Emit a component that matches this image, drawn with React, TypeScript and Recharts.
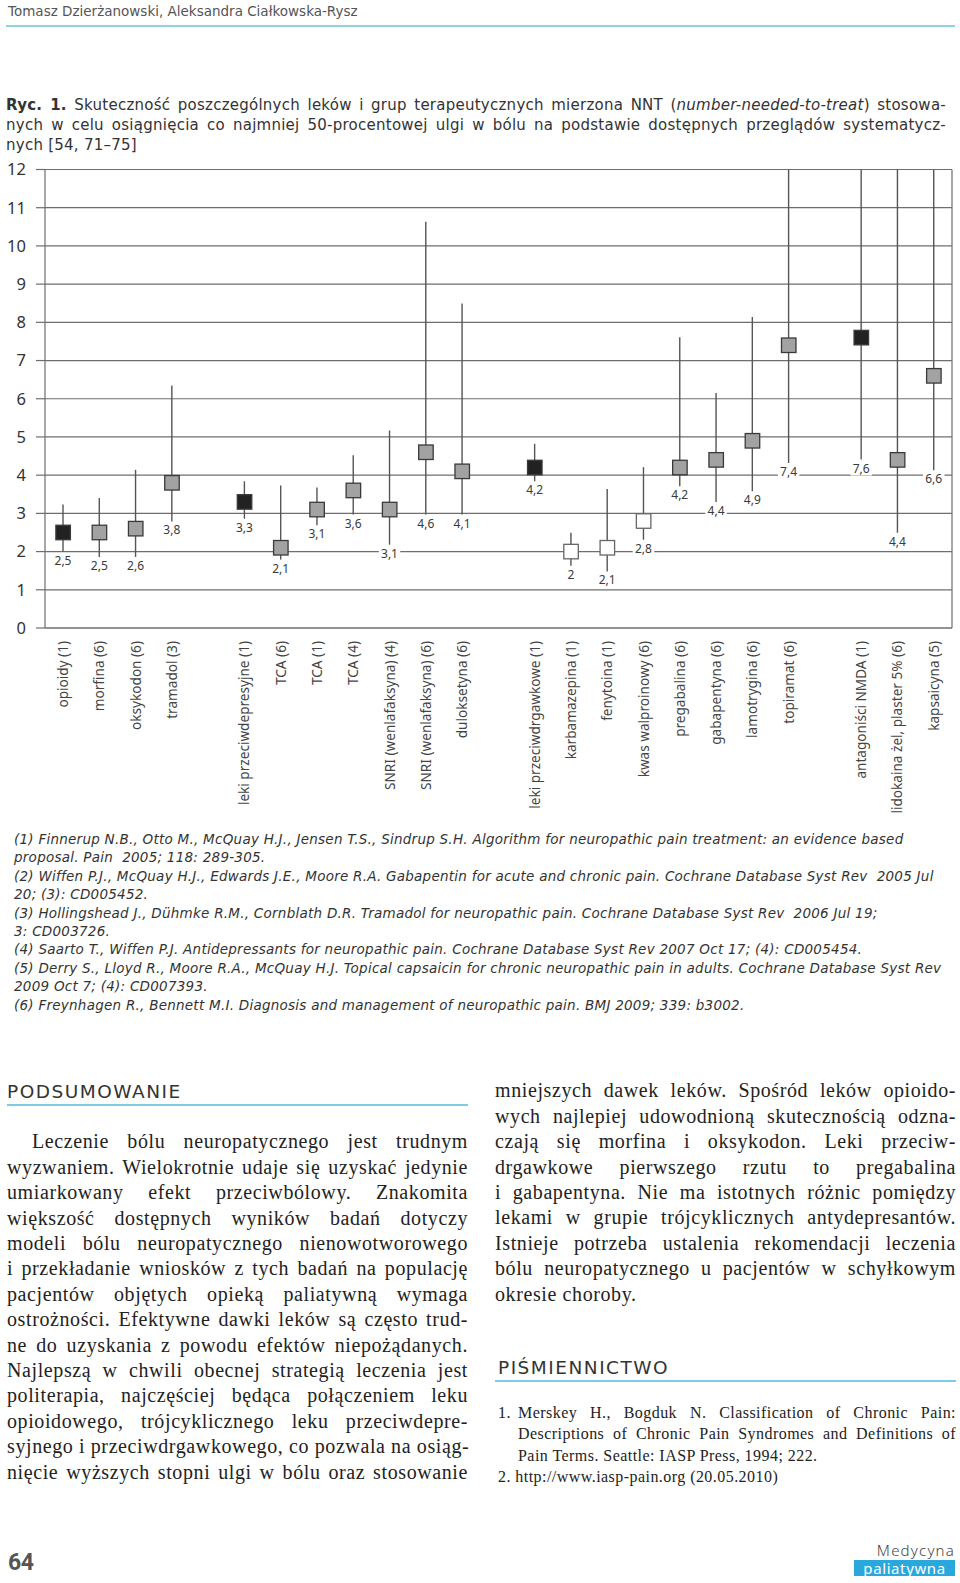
import React from "react";
import {
  ComposedChart,
  Bar,
  Line,
  XAxis,
  YAxis,
  CartesianGrid,
  LabelList,
} from "recharts";

// 25 slots on the x axis, empty strings are the gaps between drug groups
const categories = [
  "opioidy (1)",
  "morfina (6)",
  "oksykodon (6)",
  "tramadol (3)",
  "",
  "leki przeciwdepresyjne (1)",
  "TCA (6)",
  "TCA (1)",
  "TCA (4)",
  "SNRI (wenlafaksyna) (4)",
  "SNRI (wenlafaksyna) (6)",
  "duloksetyna (6)",
  "",
  "leki przeciwdrgawkowe (1)",
  "karbamazepina (1)",
  "fenytoina (1)",
  "kwas walproinowy (6)",
  "pregabalina (6)",
  "gabapentyna (6)",
  "lamotrygina (6)",
  "topiramat (6)",
  "",
  "antagoniści NMDA (1)",
  "lidokaina żel, plaster 5% (6)",
  "kapsaicyna (5)",
];

// NNT point estimate
const nntValues = [
  2.5, 2.5, 2.6, 3.8, null,
  3.3, 2.1, 3.1, 3.6, 3.1, 4.6, 4.1, null,
  4.2, 2, 2.1, 2.8, 4.2, 4.4, 4.9, 7.4, null,
  7.6, 4.4, 6.6,
];

// confidence interval ends (lines running off the top are cut at 12)
const ciLow = [
  2.0, 1.86, 1.86, 2.79, null,
  2.86, 1.79, 2.69, 2.97, 2.18, 2.97, 2.97, null,
  3.84, 1.63, 1.48, 2.31, 3.71, 3.3, 3.58, 4.32, null,
  4.41, 2.49, 4.13,
];
const ciHigh = [
  3.23, 3.4, 4.14, 6.35, null,
  3.84, 3.73, 3.68, 4.52, 5.17, 10.63, 8.49, null,
  4.82, 2.49, 3.64, 4.21, 7.61, 6.15, 8.14, 12, null,
  12, 12, 12,
];

// marker style: group summary (black), single drug (gray), older anticonvulsants (white)
const markerKind = [
  "group", "drug", "drug", "drug", null,
  "group", "drug", "drug", "drug", "drug", "drug", "drug", null,
  "group", "old", "old", "old", "drug", "drug", "drug", "drug", null,
  "group", "drug", "drug",
];

const yTicks = [0, 1, 2, 3, 4, 5, 6, 7, 8, 9, 10, 11, 12];

const data = categories.map((name, i) => ({
  slot: i,
  name,
  nnt: nntValues[i],
  range: ciLow[i] == null ? null : [ciLow[i], ciHigh[i]],
  label: nntValues[i] == null ? null : String(nntValues[i]).replace(".", ","),
  kind: markerKind[i],
}));

const SANS = "'Noto Sans', 'DejaVu Sans', sans-serif";
const WIDE = "'DejaVu Sans', sans-serif";
const SERIF = "'Liberation Serif', 'DejaVu Serif', serif";
const GRID = "#6e6e6e";

const markerFill: Record<string, string> = {
  group: "#222222",
  drug: "#a2a2a2",
  old: "#ffffff",
};

function XTick(props: any) {
  const { x, y, payload } = props;
  const name = categories[payload.value];
  if (!name) return null;
  return (
    <text
      x={x}
      y={y}
      transform={`rotate(-90 ${x} ${y})`}
      textAnchor="end"
      dy="0.36em"
      fontSize={13.6}
      fontFamily={SANS}
      fill="#444"
    >
      {name}
    </text>
  );
}

function RangeLine(props: any) {
  const { x, y, width, height, payload } = props;
  if (!payload || payload.range == null || !isFinite(height)) return null;
  const cx = x + width / 2;
  return <line x1={cx} x2={cx} y1={y} y2={y + height} stroke="#555" strokeWidth={1.4} />;
}

function RangeLabel(props: any) {
  const vb = props.viewBox || props;
  const { value } = props;
  if (value == null || vb.x == null) return null;
  const cx = vb.x + vb.width / 2;
  const top = vb.y + vb.height + 3;
  const w = String(value).length * 6.5 + 2;
  return (
    <g>
      <rect x={cx - w / 2} y={top} width={w} height={13} fill="#fff" />
      <text x={cx} y={top + 10} textAnchor="middle" fontSize={12} fontFamily={SANS} fill="#3a3a3a">
        {value}
      </text>
    </g>
  );
}

function Marker(props: any) {
  const { cx, cy, payload } = props;
  if (payload == null || payload.nnt == null || cy == null || isNaN(cy)) return null;
  const s = 14.5;
  const kind = payload.kind;
  return (
    <rect
      x={cx - s / 2}
      y={cy - s / 2}
      width={s}
      height={s}
      fill={markerFill[kind]}
      stroke={kind === "old" ? "#666" : "#3a3a3a"}
      strokeWidth={1.3}
    />
  );
}

const line = (justify: boolean, extra: React.CSSProperties = {}): React.CSSProperties => ({
  whiteSpace: "nowrap",
  textAlign: justify ? "justify" : "left",
  textAlignLast: justify ? "justify" : "left",
  ...extra,
});

const captionLines = [
  "Skuteczność poszczególnych leków i grup terapeutycznych mierzona NNT (",
  "nych w celu osiągnięcia co najmniej 50-procentowej ulgi w bólu na podstawie dostępnych przeglądów systematycz-",
  "nych [54, 71–75]",
];

const footnotes = [
  "(1) Finnerup N.B., Otto M., McQuay H.J., Jensen T.S., Sindrup S.H. Algorithm for neuropathic pain treatment: an evidence based",
  "proposal. Pain  2005; 118: 289-305.",
  "(2) Wiffen P.J., McQuay H.J., Edwards J.E., Moore R.A. Gabapentin for acute and chronic pain. Cochrane Database Syst Rev  2005 Jul",
  "20; (3): CD005452.",
  "(3) Hollingshead J., Dühmke R.M., Cornblath D.R. Tramadol for neuropathic pain. Cochrane Database Syst Rev  2006 Jul 19;",
  "3: CD003726.",
  "(4) Saarto T., Wiffen P.J. Antidepressants for neuropathic pain. Cochrane Database Syst Rev 2007 Oct 17; (4): CD005454.",
  "(5) Derry S., Lloyd R., Moore R.A., McQuay H.J. Topical capsaicin for chronic neuropathic pain in adults. Cochrane Database Syst Rev",
  "2009 Oct 7; (4): CD007393.",
  "(6) Freynhagen R., Bennett M.I. Diagnosis and management of neuropathic pain. BMJ 2009; 339: b3002.",
];

const leftColumn = [
  "Leczenie bólu neuropatycznego jest trudnym",
  "wyzwaniem. Wielokrotnie udaje się uzyskać jedynie",
  "umiarkowany efekt przeciwbólowy. Znakomita",
  "większość dostępnych wyników badań dotyczy",
  "modeli bólu neuropatycznego nienowotworowego",
  "i przekładanie wniosków z tych badań na populację",
  "pacjentów objętych opieką paliatywną wymaga",
  "ostrożności. Efektywne dawki leków są często trud-",
  "ne do uzyskania z powodu efektów niepożądanych.",
  "Najlepszą w chwili obecnej strategią leczenia jest",
  "politerapia, najczęściej będąca połączeniem leku",
  "opioidowego, trójcyklicznego leku przeciwdepre-",
  "syjnego i przeciwdrgawkowego, co pozwala na osiąg-",
  "nięcie wyższych stopni ulgi w bólu oraz stosowanie",
];

const rightColumn = [
  "mniejszych dawek leków. Spośród leków opioido-",
  "wych najlepiej udowodnioną skutecznością odzna-",
  "czają się morfina i oksykodon. Leki przeciw-",
  "drgawkowe pierwszego rzutu to pregabalina",
  "i gabapentyna. Nie ma istotnych różnic pomiędzy",
  "lekami w grupie trójcyklicznych antydepresantów.",
  "Istnieje potrzeba ustalenia rekomendacji leczenia",
  "bólu neuropatycznego u pacjentów w schyłkowym",
  "okresie choroby.",
];

const bodyText: React.CSSProperties = {
  fontFamily: SERIF,
  fontSize: 20,
  letterSpacing: 0.6,
  lineHeight: "25.4px",
  color: "#222",
};

const heading: React.CSSProperties = {
  fontFamily: WIDE,
  fontSize: 18.5,
  lineHeight: "22px",
  color: "#333",
  letterSpacing: 1.5,
};

export default function App() {
  return (
    <div
      style={{
        position: "absolute",
        left: 0,
        top: 0,
        width: 960,
        height: 1583,
        background: "#fff",
        color: "#222",
        overflow: "hidden",
      }}
    >
      {/* running head */}
      <div style={{ position: "absolute", left: 8, top: 2, fontFamily: WIDE, fontSize: 13.5, lineHeight: "18px", color: "#555" }}>
        Tomasz Dzierżanowski, Aleksandra Ciałkowska-Rysz
      </div>
      <div style={{ position: "absolute", left: 6, top: 25, width: 949, height: 2, background: "#8fd3dc" }} />

      {/* figure caption */}
      <div style={{ position: "absolute", left: 6, top: 95, width: 940, fontFamily: WIDE, fontSize: 15, letterSpacing: 0.25, lineHeight: "20px", color: "#333" }}>
        <div style={line(true)}>
          <b>Ryc. 1.</b> {captionLines[0]}
          <i>number-needed-to-treat</i>) stosowa-
        </div>
        <div style={line(true)}>{captionLines[1]}</div>
        <div style={line(false)}>{captionLines[2]}</div>
      </div>

      <div style={{ position: "absolute", left: 0, top: 150 }}>
        <ComposedChart
          width={960}
          height={670}
          data={data}
          margin={{ top: 19.5, right: 8, bottom: 0, left: 0 }}
        >
          <CartesianGrid
            stroke={GRID}
            strokeWidth={1.2}
            vertical={true}
            verticalCoordinatesGenerator={({ offset }: any) => [offset.left + offset.width]}
          />
          <XAxis
            dataKey="slot"
            type="category"
            scale="band"
            interval={0}
            height={192}
            tickLine={false}
            tickMargin={7}
            axisLine={{ stroke: GRID, strokeWidth: 1.2 }}
            tick={<XTick />}
          />
          <YAxis
            domain={[0, 12]}
            ticks={yTicks}
            interval={0}
            width={45}
            tickSize={9}
            tickMargin={10}
            axisLine={{ stroke: GRID, strokeWidth: 1.2 }}
            tickLine={{ stroke: GRID, strokeWidth: 1.2 }}
            tick={{ fontSize: 16.5, fill: "#333", fontFamily: SANS }}
          />
          <Bar dataKey="range" barSize={4} shape={<RangeLine />} isAnimationActive={false}>
            <LabelList dataKey="label" content={<RangeLabel />} />
          </Bar>
          <Line
            dataKey="nnt"
            stroke="none"
            dot={<Marker />}
            activeDot={false}
            isAnimationActive={false}
          />
        </ComposedChart>
      </div>

      {/* source notes */}
      <div style={{ position: "absolute", left: 14, top: 830, fontFamily: WIDE, fontStyle: "italic", fontSize: 13.5, letterSpacing: 0.25, lineHeight: "18.4px", color: "#333" }}>
        {footnotes.map((t, i) => (
          <div key={i} style={{ whiteSpace: "pre" }}>{t}</div>
        ))}
      </div>

      {/* left column */}
      <div style={{ position: "absolute", left: 7, top: 1081, ...heading }}>PODSUMOWANIE</div>
      <div style={{ position: "absolute", left: 7, top: 1104, width: 461, height: 2, background: "#7ecbe8" }} />
      <div style={{ position: "absolute", left: 7, top: 1129.3, width: 461, ...bodyText }}>
        {leftColumn.map((t, i) => (
          <div key={i} style={line(true, i === 0 ? { paddingLeft: 25 } : {})}>{t}</div>
        ))}
      </div>

      {/* right column */}
      <div style={{ position: "absolute", left: 495, top: 1078.3, width: 461, ...bodyText }}>
        {rightColumn.map((t, i) => (
          <div key={i} style={line(i < rightColumn.length - 1)}>{t}</div>
        ))}
      </div>
      <div style={{ position: "absolute", left: 498, top: 1357, ...heading }}>PIŚMIENNICTWO</div>
      <div style={{ position: "absolute", left: 495, top: 1380, width: 461, height: 2, background: "#7ecbe8" }} />
      <div style={{ position: "absolute", left: 498, top: 1402, width: 458, fontFamily: SERIF, fontSize: 16, letterSpacing: 0.45, lineHeight: "21.3px", color: "#222" }}>
        <div style={line(true, { paddingLeft: 20, position: "relative" })}>
          <span style={{ position: "absolute", left: 0 }}>1.</span>
          Merskey H., Bogduk N. Classification of Chronic Pain:
        </div>
        <div style={line(true, { paddingLeft: 20 })}>Descriptions of Chronic Pain Syndromes and Definitions of</div>
        <div style={line(false, { paddingLeft: 20 })}>Pain Terms. Seattle: IASP Press, 1994; 222.</div>
        <div style={line(false)}>2. http://www.iasp-pain.org (20.05.2010)</div>
      </div>

      {/* footer */}
      <div style={{ position: "absolute", left: 8, top: 1549, fontFamily: "Roboto, sans-serif", fontWeight: 700, fontSize: 23, lineHeight: "28px", color: "#555", letterSpacing: -0.5 }}>
        64
      </div>
      <div style={{ position: "absolute", left: 854, top: 1541, width: 101, textAlign: "right", fontFamily: SANS, fontSize: 15, fontWeight: 300, lineHeight: "18px", color: "#444", letterSpacing: 1.2 }}>
        Medycyna
      </div>
      <div style={{ position: "absolute", left: 854, top: 1560, width: 101, height: 16, background: "#2aa8dc", color: "#fff", fontFamily: SANS, fontSize: 15, lineHeight: "16px", textAlign: "center", letterSpacing: 0.6 }}>
        paliatywna
      </div>
    </div>
  );
}
